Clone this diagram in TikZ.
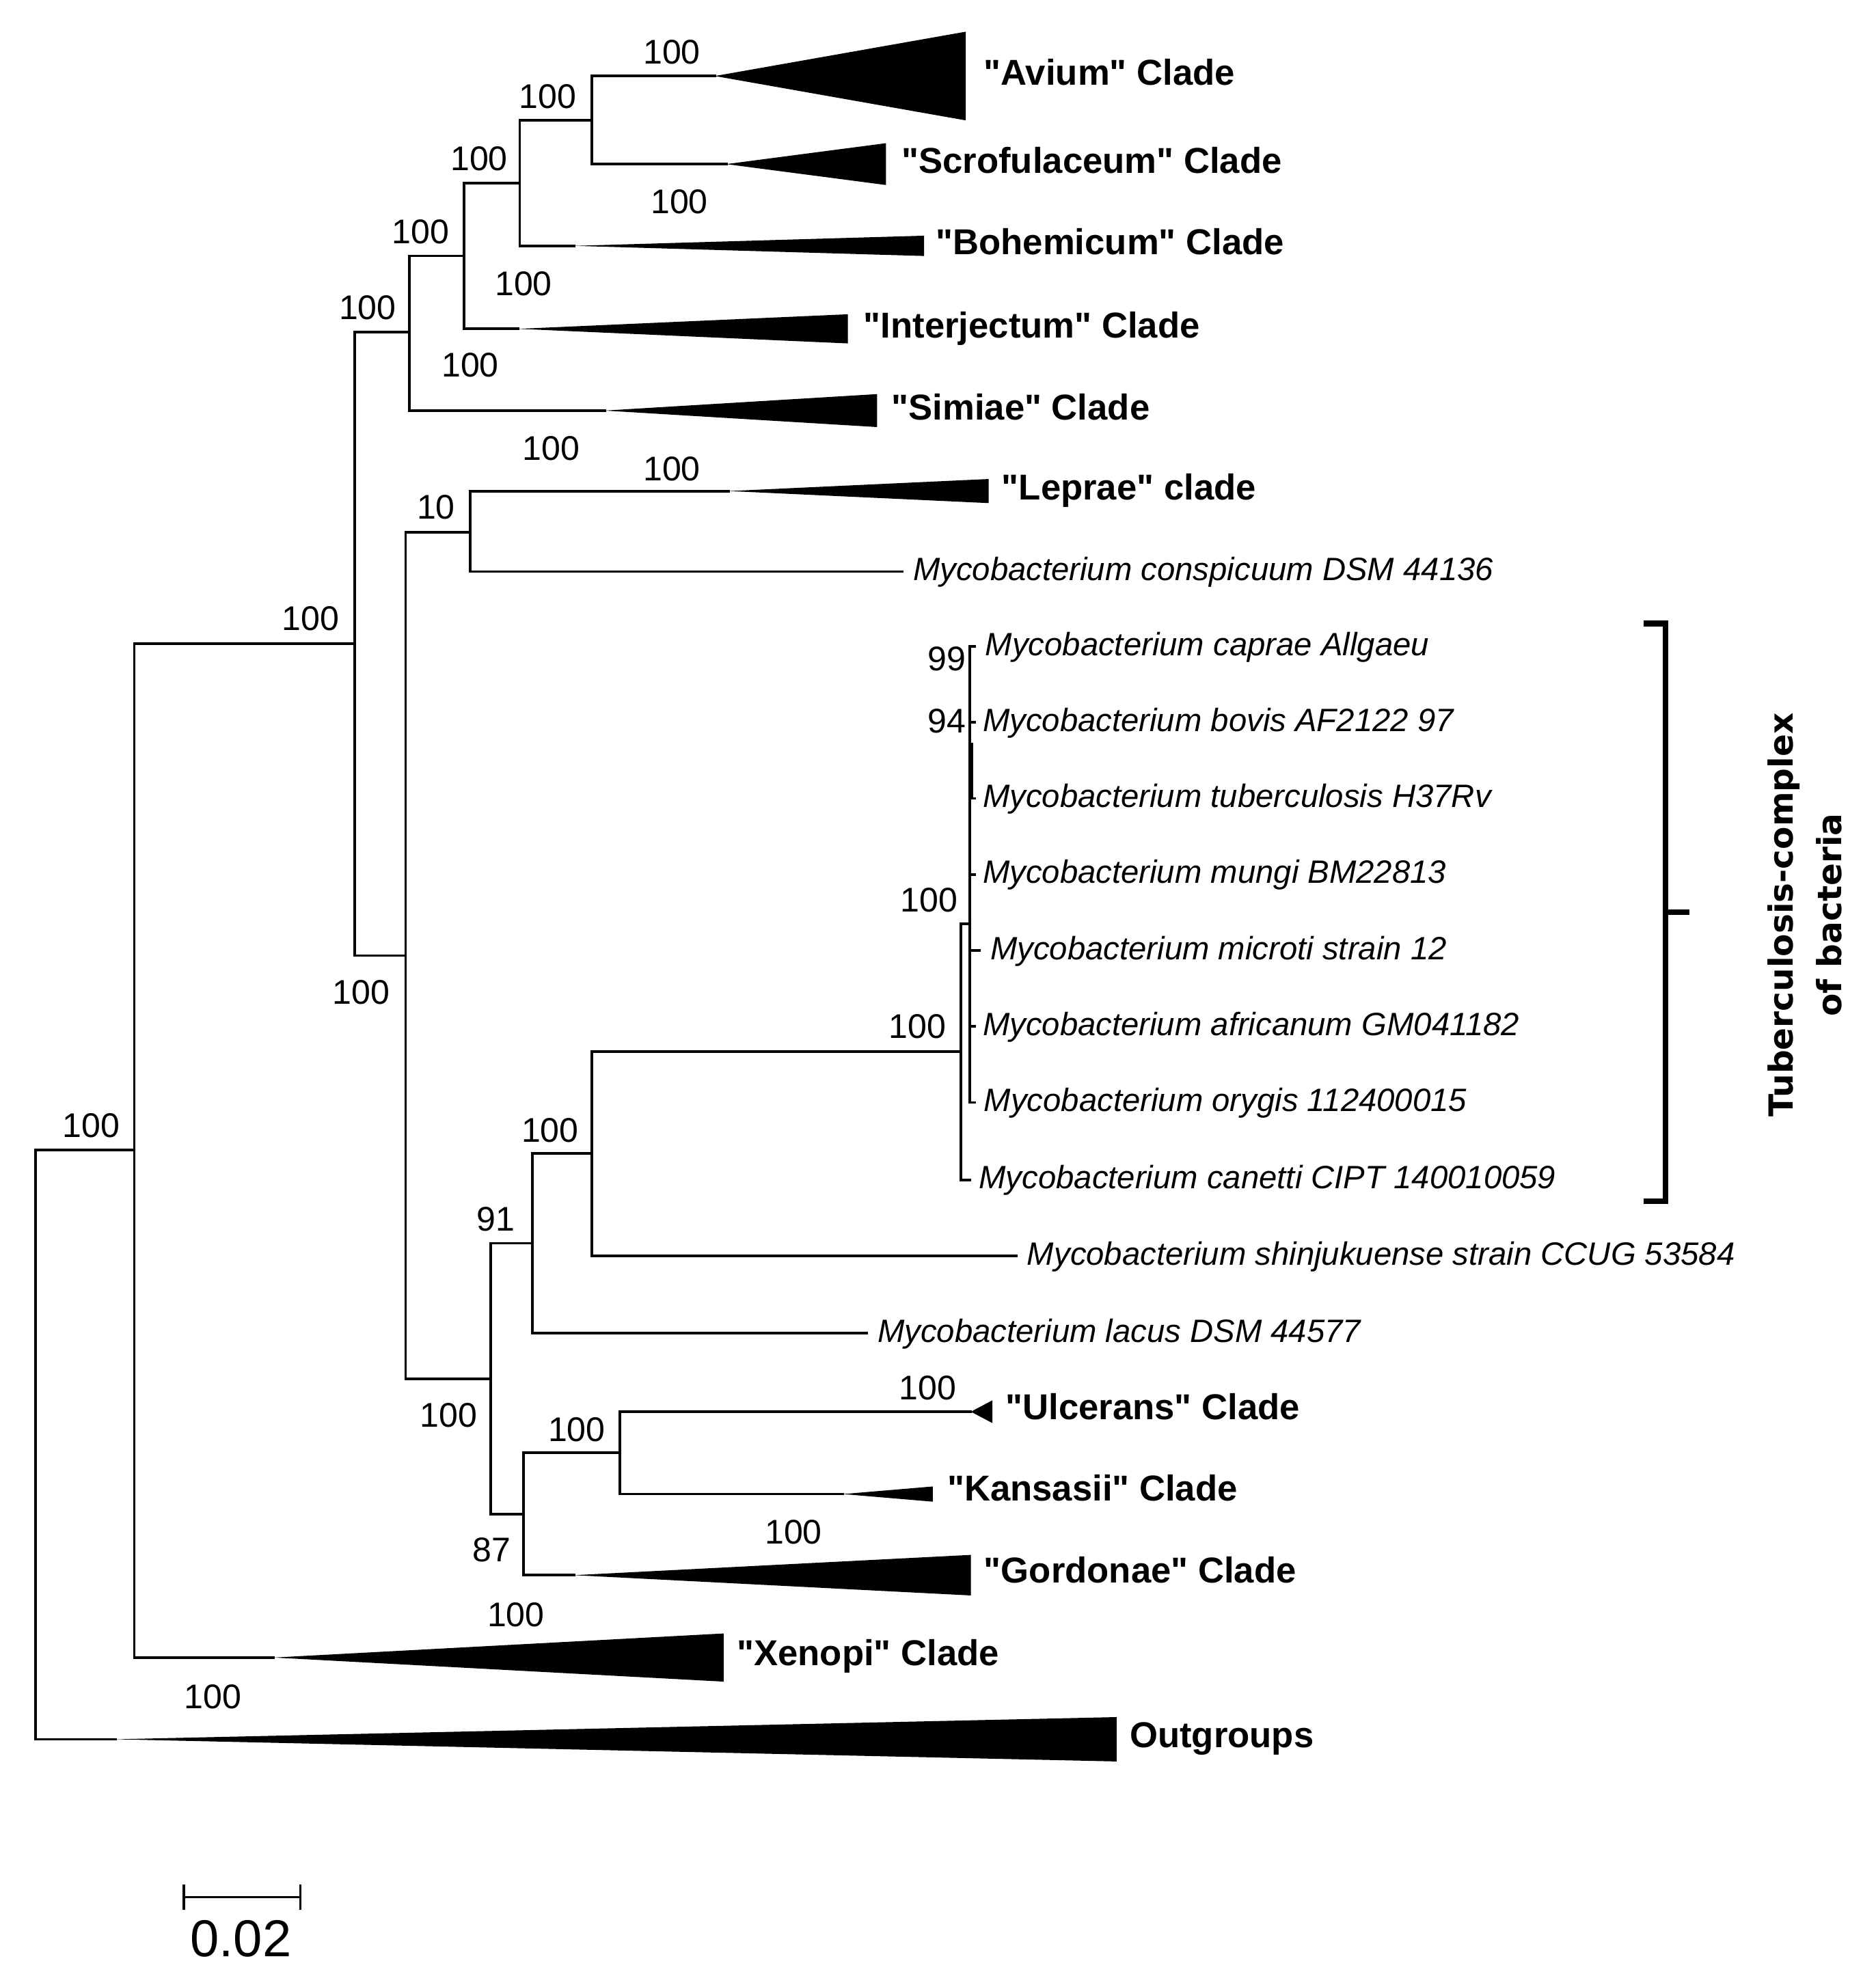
\documentclass[tikz,border=0pt]{standalone}
\usepackage{fontspec}
\setmainfont{Liberation Sans}
\newfontfamily\cladefont{Liberation Sans}[Ligatures=TeXOff]
\newfontfamily\tbfont{DejaVu Sans}
\begin{document}
\begin{tikzpicture}[x=0.5pt,y=-0.5pt,
  br/.style={line width=1pt, line cap=rect},
  bs/.style={font=\fontsize{13.5}{14}\selectfont, inner sep=0pt},
  leaf/.style={font=\fontsize{12.75}{14}\selectfont\itshape, anchor=west, inner sep=0pt, text height=0.72em, text depth=0.21em, yshift=-1pt},
  clade/.style={font=\cladefont\bfseries\fontsize{14.2}{16}\selectfont, anchor=west, inner sep=0pt, text height=0.72em, text depth=0.21em, yshift=-1pt},
  wedge/.style={fill=black}]
\useasboundingbox (0,0) rectangle (1480,1568);

% ---------- internal nodes ----------
\coordinate (root) at (28,1139.5);
\coordinate (n1) at (106,907.5);
\coordinate (n2) at (280,508);
\coordinate (n3) at (323,262);
\coordinate (n4) at (366,202);
\coordinate (n5) at (410,144.5);
\coordinate (n6) at (467,95);
\coordinate (n7) at (320,754);
\coordinate (n8) at (371,420);
\coordinate (n9) at (387,1088);
\coordinate (n10) at (420,981);
\coordinate (n11) at (467,910);
\coordinate (n12) at (413,1195);
\coordinate (n13) at (489,1146.5);
\coordinate (tb) at (758,830);
\coordinate (tbA) at (765,729);

% ---------- clade apexes ----------
\coordinate (avA) at (564,60);
\coordinate (scA) at (573,129.5);
\coordinate (boA) at (453,194);
\coordinate (inA) at (409,259.5);
\coordinate (siA) at (477,324);
\coordinate (leA) at (575,387.5);
\coordinate (ulA) at (766,1114);
\coordinate (kaA) at (665,1179);
\coordinate (goA) at (453,1243);
\coordinate (xeA) at (216,1308);
\coordinate (ouA) at (91,1372.5);

% ---------- leaves ----------
\coordinate (conL) at (712,451);
\coordinate (shiL) at (802,991);
\coordinate (lacL) at (684,1052);
\coordinate (capL) at (769,510);
\coordinate (bovL) at (769,570);
\coordinate (tubL) at (769,630);
\coordinate (munL) at (769,690);
\coordinate (micL) at (773,750);
\coordinate (afrL) at (769,810);
\coordinate (oryL) at (769,870);
\coordinate (canL) at (765,931);

% ---------- branches ----------
\draw[br] (root) |- (n1);
\draw[br] (root) |- (ouA);
\draw[br] (n1) |- (n2);
\draw[br] (n1) |- (xeA);
\draw[br] (n2) |- (n3);
\draw[br] (n2) |- (n7);
\draw[br] (n3) |- (n4);
\draw[br] (n3) |- (siA);
\draw[br] (n4) |- (n5);
\draw[br] (n4) |- (inA);
\draw[br] (n5) |- (n6);
\draw[br] (n5) |- (boA);
\draw[br] (n6) |- (avA);
\draw[br] (n6) |- (scA);
\draw[br] (n7) |- (n8);
\draw[br] (n7) |- (n9);
\draw[br] (n8) |- (leA);
\draw[br] (n8) |- (conL);
\draw[br] (n9) |- (n10);
\draw[br] (n9) |- (n12);
\draw[br] (n10) |- (n11);
\draw[br] (n10) |- (lacL);
\draw[br] (n11) |- (tb);
\draw[br] (n11) |- (shiL);
\draw[br] (n12) |- (n13);
\draw[br] (n12) |- (goA);
\draw[br] (n13) |- (ulA);
\draw[br] (n13) |- (kaA);
\draw[br] (tb) |- (tbA);
\draw[br] (tb) |- (canL);
\foreach \l in {capL,bovL,tubL,munL,micL,afrL,oryL} \draw[br] (tbA) |- (\l);
\draw[line width=1.6pt] (766,586) -- (766,631);

% ---------- collapsed clades ----------
\fill[wedge] (avA) -- (762,25) -- (762,95) -- cycle;
\fill[wedge] (scA) -- (699,113) -- (699,146) -- cycle;
\fill[wedge] (boA) -- (729,186) -- (729,202) -- cycle;
\fill[wedge] (inA) -- (669,248) -- (669,271) -- cycle;
\fill[wedge] (siA) -- (692,311) -- (692,337) -- cycle;
\fill[wedge] (leA) -- (780,378) -- (780,397) -- cycle;
\fill[wedge] (ulA) -- (783,1105) -- (783,1123) -- cycle;
\fill[wedge] (kaA) -- (736,1173) -- (736,1185) -- cycle;
\fill[wedge] (goA) -- (766,1227) -- (766,1259) -- cycle;
\fill[wedge] (xeA) -- (571,1289) -- (571,1327) -- cycle;
\fill[wedge] (ouA) -- (881,1355) -- (881,1390) -- cycle;

% ---------- clade labels ----------
\node[clade] (tAv) at (776,60) {"Avium" Clade};
\node[clade] (tSc) at (711,129.5) {"Scrofulaceum" Clade};
\node[clade] (tBo) at (738,194) {"Bohemicum" Clade};
\node[clade] (tIn) at (681,259.5) {"Interjectum" Clade};
\node[clade] (tSi) at (703,324) {"Simiae" Clade};
\node[clade] (tLe) at (790,387.5) {"Leprae" clade};
\node[clade] (tUl) at (793,1113) {"Ulcerans" Clade};
\node[clade] (tKa) at (747,1177) {"Kansasii" Clade};
\node[clade] (tGo) at (776,1242) {"Gordonae" Clade};
\node[clade] (tXe) at (581,1307) {"Xenopi" Clade};
\node[clade] (tOu) at (891,1372) {Outgroups};

% ---------- leaf labels ----------
\node[leaf] (tCon) at (720,451) {Mycobacterium conspicuum DSM 44136};
\node[leaf] (tCap) at (777,510) {Mycobacterium caprae Allgaeu};
\node[leaf] (tBov) at (775,570) {Mycobacterium bovis AF2122 97};
\node[leaf] (tTub) at (775,630) {Mycobacterium tuberculosis H37Rv};
\node[leaf] (tMun) at (775,690) {Mycobacterium mungi BM22813};
\node[leaf] (tMic) at (781,750) {Mycobacterium microti strain 12};
\node[leaf] (tAfr) at (775,810) {Mycobacterium africanum GM041182};
\node[leaf] (tOry) at (776,870) {Mycobacterium orygis 112400015};
\node[leaf] (tCan) at (772,931) {Mycobacterium canetti CIPT 140010059};
\node[leaf] (tShi) at (810,991) {Mycobacterium shinjukuense strain CCUG 53584};
\node[leaf] (tLac) at (692,1052) {Mycobacterium lacus DSM 44577};

% ---------- bootstrap values ----------
\node[bs] (b01) at (530,41) {100};
\node[bs] (b02) at (432,76) {100};
\node[bs] (b03) at (378,125) {100};
\node[bs] (b04) at (536,159) {100};
\node[bs] (b05) at (332,183) {100};
\node[bs] (b06) at (413,224) {100};
\node[bs] (b07) at (290,243) {100};
\node[bs] (b08) at (371,288) {100};
\node[bs] (b09) at (435,354) {100};
\node[bs] (b10) at (530,370) {100};
\node[bs] (b11) at (344,400) {10};
\node[bs] (b12) at (245,488) {100};
\node[bs] (b13) at (747,520) {99};
\node[bs] (b14) at (747,569) {94};
\node[bs] (b15) at (733,710) {100};
\node[bs] (b16) at (285,783) {100};
\node[bs] (b17) at (724,810) {100};
\node[bs] (b18) at (72,888) {100};
\node[bs] (b19) at (434,892) {100};
\node[bs] (b20) at (391,962) {91};
\node[bs] (b21) at (732,1095) {100};
\node[bs] (b22) at (354,1117) {100};
\node[bs] (b23) at (455,1128) {100};
\node[bs] (b24) at (626,1209) {100};
\node[bs] (b25) at (388,1223) {87};
\node[bs] (b26) at (407,1274) {100};
\node[bs] (b27) at (168,1339) {100};

% ---------- bracket ----------
\coordinate (brT) at (1297,492);
\coordinate (brB) at (1297,948);
\coordinate (brM) at (1314,720);
\coordinate (brP) at (1333,720);
\draw[line width=2.2pt] (brT) -- (1314,492) -- (1314,948) -- (brB);
\draw[line width=2.2pt] (brM) -- (brP);
\node[font=\tbfont\bfseries\fontsize{13.1}{19}\selectfont, rotate=90, align=center, inner sep=0pt] (tbc) at (1424,722) {Tuberculosis-complex\\of bacteria};

% ---------- scale bar ----------
\coordinate (sL) at (145,1497);
\coordinate (sR) at (237,1497);
\draw[line width=1pt] (sL) -- (sR);
\draw[line width=1pt] (145,1487) -- (145,1507);
\draw[line width=1pt] (237,1487) -- (237,1507);
\node[font=\fontsize{20.5}{22}\selectfont, inner sep=0pt] (sLab) at (190,1530) {0.02};
\end{tikzpicture}
\end{document}
